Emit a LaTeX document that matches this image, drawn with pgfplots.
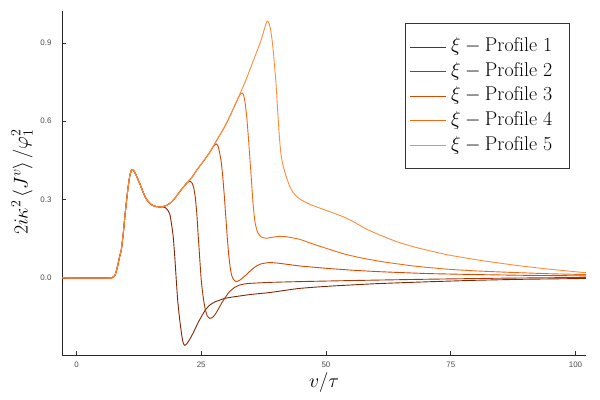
\RequirePackage{fix-cm}
\documentclass[border=0pt]{standalone}
\usepackage{fontspec}
\usepackage{pgfplots}
\pgfplotsset{compat=1.18}
\newfontfamily\tickfont{Liberation Sans}
\definecolor{pA}{HTML}{7F2704}
\definecolor{pB}{HTML}{A63603}
\definecolor{pC}{HTML}{D94801}
\definecolor{pD}{HTML}{F16913}
\definecolor{pE}{HTML}{FD8D3C}
\newcommand{\entry}[1]{\makebox[115bp][l]{\hspace{3bp}$\xi-\mathrm{Profile\ #1}$}}
\begin{document}
\begin{tikzpicture}
\useasboundingbox (0,0) rectangle (600bp,400bp);
\begin{axis}[
  at={(62bp,45bp)}, anchor=south west, scale only axis,
  width=524bp, height=344bp,
  xmin=-2.9, xmax=102.1, ymin=-0.295, ymax=1.022,
  axis x line*=bottom, axis y line*=left,
  axis line style={-, line width=0.8bp, black!85},
  xtick={0,25,50,75,100}, ytick={0,0.3,0.6,0.9},
  yticklabel style={/pgf/number format/fixed, /pgf/number format/fixed zerofill, /pgf/number format/precision=1, xshift=-7bp},
  xticklabel style={yshift=-3bp},
  tick align=inside, major tick length=4bp,
  tick style={black!80, line width=0.6bp},
  ticklabel style={font=\tickfont\fontsize{8}{9}\selectfont, text=black!70},
  /pgf/number format/assume math mode=true,
  xlabel={$v/\tau$}, ylabel={$2i\kappa^2\left\langle J^v\right\rangle/\varphi_1^2$},
  every axis x label/.style={at={(axis description cs:0.5,-0.081)}, anchor=center, font=\fontsize{20}{24}\selectfont},
  every axis y label/.style={at={(axis description cs:-0.0763,0.503)}, anchor=center, rotate=90, font=\fontsize{20}{24}\selectfont},
  legend style={at={(axis description cs:0.654,0.964)}, anchor=north west,
    font=\fontsize{20}{24}\selectfont, draw=black!80, line width=0.8bp,
    nodes={inner sep=2bp, text height=14bp, text depth=4.5bp},
    row sep=2.1bp, inner xsep=4bp, inner ysep=12bp, cells={anchor=west}},
  legend image code/.code={\draw[#1, line width=1bp] (0bp,0bp) -- (36bp,0bp);},
  every axis plot/.append style={line width=0.9bp, smooth, tension=0.3},
]
\addplot[pA] coordinates {(-2.9,0) (6.5,0) (7.0,0.001) (7.4,0.004) (7.7,0.01) (8.0,0.027) (8.3,0.05) (8.6,0.078) (9.0,0.11) (9.4,0.175) (9.7,0.236) (10.0,0.29) (10.36,0.35) (10.7,0.393) (11.0,0.412) (11.2,0.415) (11.5,0.41) (11.9,0.396) (12.3,0.378) (12.7,0.36) (13.2,0.336) (13.6,0.317) (14.0,0.302) (14.5,0.29) (15.0,0.281) (15.5,0.276) (16.0,0.273) (16.7,0.272)
 (17.2,0.272) (17.7,0.27) (18.2,0.262) (18.7,0.245) (19.1,0.2) (19.4,0.155) (19.7,0.08) (20.0,-0.008) (20.3,-0.09) (20.7,-0.162) (21.1,-0.22) (21.4,-0.25) (21.7,-0.258) (22.1,-0.252) (22.7,-0.235) (23.4,-0.21) (24.4,-0.17) (25.4,-0.136) (26.0,-0.118) (26.7,-0.104) (27.7,-0.092) (28.7,-0.085) (29.4,-0.08) (30.3,-0.076) (32.0,-0.071) (35,-0.063) (38.7,-0.056) (42.7,-0.045) (44.7,-0.04) (48,-0.035) (52,-0.03) (60,-0.022) (70,-0.015) (80,-0.009) (90,-0.005) (102.1,-0.002)};
\addlegendentry{\entry{1}}
\addplot[pB] coordinates {(-2.9,0) (6.5,0) (7.0,0.001) (7.4,0.004) (7.7,0.01) (8.0,0.027) (8.3,0.05) (8.6,0.078) (9.0,0.11) (9.4,0.175) (9.7,0.236) (10.0,0.29) (10.36,0.35) (10.7,0.393) (11.0,0.412) (11.2,0.415) (11.5,0.41) (11.9,0.396) (12.3,0.378) (12.7,0.36) (13.2,0.336) (13.6,0.317) (14.0,0.302) (14.5,0.29) (15.0,0.281) (15.5,0.276) (16.0,0.273) (16.7,0.272) (17.2,0.273)
 (18,0.277) (19,0.29) (20,0.312) (21,0.338) (21.5,0.35) (22.0,0.362) (22.5,0.369) (22.8,0.37) (23.2,0.362) (23.5,0.345) (23.8,0.31) (24.1,0.25) (24.4,0.16) (24.7,0.075) (25.0,-0.008) (25.4,-0.075) (25.8,-0.12) (26.2,-0.145) (26.7,-0.155) (27.2,-0.152) (27.7,-0.142) (28.2,-0.127) (28.7,-0.11) (29.2,-0.093) (29.7,-0.078) (30.2,-0.064) (30.7,-0.052) (31.7,-0.036) (32.7,-0.027) (34,-0.022) (35.4,-0.02) (38.7,-0.017) (44.7,-0.014) (55,-0.01) (70,-0.005) (85,-0.001) (102.1,0.002)};
\addlegendentry{\entry{2}}
\addplot[pC] coordinates {(-2.9,0) (6.5,0) (7.0,0.001) (7.4,0.004) (7.7,0.01) (8.0,0.027) (8.3,0.05) (8.6,0.078) (9.0,0.11) (9.4,0.175) (9.7,0.236) (10.0,0.29) (10.36,0.35) (10.7,0.393) (11.0,0.412) (11.2,0.415) (11.5,0.41) (11.9,0.396) (12.3,0.378) (12.7,0.36) (13.2,0.336) (13.6,0.317) (14.0,0.302) (14.5,0.29) (15.0,0.281) (15.5,0.276) (16.0,0.273) (16.7,0.272) (17.2,0.273)
 (18,0.277) (19,0.29) (20,0.312) (21,0.338) (22,0.36) (22.7,0.375) (23.4,0.392) (24,0.41) (25.4,0.446) (26.5,0.475) (27.4,0.503) (27.8,0.511) (28.1,0.513) (28.4,0.503) (28.7,0.478) (29.0,0.445) (29.3,0.39) (29.6,0.32) (29.9,0.24) (30.2,0.16) (30.5,0.09) (30.8,0.04) (31.1,0.01) (31.5,-0.007) (32.0,-0.014) (32.6,-0.01) (33.3,0.0) (34.0,0.012) (35,0.03) (36,0.045) (37,0.054) (38.7,0.059) (40.7,0.056) (44.7,0.046) (50,0.037) (55,0.03) (60.7,0.024) (70,0.017) (80,0.013) (90,0.01) (102.1,0.008)};
\addlegendentry{\entry{3}}
\addplot[pD] coordinates {(-2.9,0) (6.5,0) (7.0,0.001) (7.4,0.004) (7.7,0.01) (8.0,0.027) (8.3,0.05) (8.6,0.078) (9.0,0.11) (9.4,0.175) (9.7,0.236) (10.0,0.29) (10.36,0.35) (10.7,0.393) (11.0,0.412) (11.2,0.415) (11.5,0.41) (11.9,0.396) (12.3,0.378) (12.7,0.36) (13.2,0.336) (13.6,0.317) (14.0,0.302) (14.5,0.29) (15.0,0.281) (15.5,0.276) (16.0,0.273) (16.7,0.272) (17.2,0.273)
 (18,0.277) (19,0.29) (20,0.312) (21,0.338) (22,0.36) (22.7,0.375) (23.4,0.392) (24,0.41) (25.4,0.446) (26.5,0.475) (27.4,0.503) (28.5,0.54) (29.3,0.565) (30,0.59) (31,0.63) (32,0.672) (32.5,0.693) (32.9,0.706) (33.2,0.708) (33.5,0.7) (33.8,0.67) (34.1,0.62) (34.4,0.55) (34.7,0.47) (35.0,0.39) (35.4,0.28) (35.8,0.21) (36.3,0.175) (37.0,0.157) (38.0,0.152) (39.0,0.155) (40.5,0.159) (42,0.158) (44.7,0.148) (47.4,0.13) (51.4,0.105) (54,0.09) (57,0.077) (61,0.063) (67.4,0.046) (74,0.034) (80,0.027) (87.4,0.021) (95,0.016) (102.1,0.013)};
\addlegendentry{\entry{4}}
\addplot[pE] coordinates {(-2.9,0) (6.5,0) (7.0,0.001) (7.4,0.004) (7.7,0.01) (8.0,0.027) (8.3,0.05) (8.6,0.078) (9.0,0.11) (9.4,0.175) (9.7,0.236) (10.0,0.29) (10.36,0.35) (10.7,0.393) (11.0,0.412) (11.2,0.415) (11.5,0.41) (11.9,0.396) (12.3,0.378) (12.7,0.36) (13.2,0.336) (13.6,0.317) (14.0,0.302) (14.5,0.29) (15.0,0.281) (15.5,0.276) (16.0,0.273) (16.7,0.272) (17.2,0.273)
 (18,0.277) (19,0.29) (20,0.312) (21,0.338) (22,0.36) (22.7,0.375) (23.4,0.392) (24,0.41) (25.4,0.446) (26.5,0.475) (27.4,0.503) (28.5,0.54) (29.3,0.565) (30,0.59) (31,0.63) (32,0.672) (33,0.715) (34,0.76) (35,0.81) (36,0.86) (37,0.91) (37.6,0.95) (38.0,0.975) (38.2,0.983) (38.45,0.98) (38.7,0.968) (38.95,0.945) (39.2,0.91) (39.45,0.865) (39.7,0.81) (40.0,0.74) (40.35,0.63) (40.7,0.53) (41.0,0.47) (41.4,0.43) (42.0,0.39) (42.7,0.352) (43.4,0.327) (44.4,0.307) (45.4,0.295) (47,0.28) (49.4,0.263) (52,0.245) (54,0.23) (56,0.21) (58,0.188) (60.7,0.165) (64,0.14) (67.4,0.12) (71,0.103) (74.5,0.088) (80.7,0.068) (87.4,0.05) (94,0.035) (102.1,0.02)};
\addlegendentry{\entry{5}}
\end{axis}
\end{tikzpicture}
\end{document}
